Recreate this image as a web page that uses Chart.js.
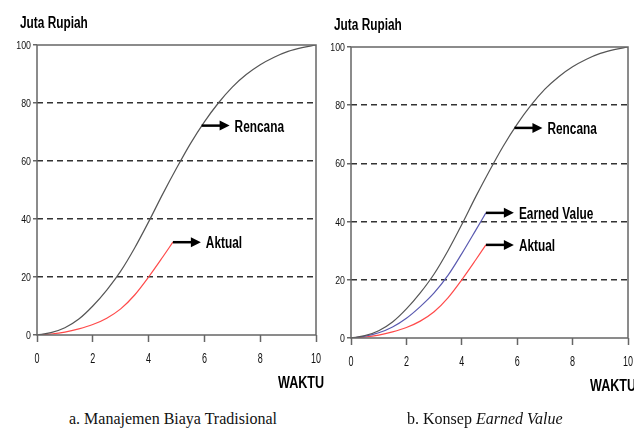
<!DOCTYPE html>
<html>
<head>
<meta charset="utf-8">
<script src="https://cdn.jsdelivr.net/npm/chart.js@4.4.1/dist/chart.umd.min.js"></script>
<style>
  body { margin: 0; background: #fff; width: 634px; height: 431px; overflow: hidden; position: relative; }
  canvas { position: absolute; top: 0; }
  #chartA { left: 0; }
  #chartB { left: 314px; }
  .caption { position: absolute; top: 410px; font-family: "Liberation Serif", "DejaVu Serif", serif; font-size: 16px; line-height: 18px; color: #111; white-space: nowrap; }
  #capA { left: 69px; }
  #capB { left: 407px; }
</style>
</head>
<body>
<canvas id="chartA" width="340" height="395"></canvas>
<canvas id="chartB" width="320" height="395"></canvas>
<div class="caption" id="capA">a. Manajemen Biaya Tradisional</div>
<div class="caption" id="capB">b. Konsep <i>Earned Value</i></div>

<script>
// ---------------- DATA ----------------
const xTicks = [0, 2, 4, 6, 8, 10];
const yTicks = [0, 20, 40, 60, 80, 100];

const rencanaX = [0, 0.5, 1, 1.5, 2, 2.5, 3, 3.5, 4, 4.5, 5, 5.5, 6, 6.5, 7, 7.5, 8, 8.5, 9, 9.5, 10];
const rencanaY = [0, 0.8, 2.5, 5.5, 10, 15.5, 22, 30, 39, 48.5, 57.5, 66, 73.5, 80, 85.5, 89.8, 93.2, 95.8, 97.8, 99.1, 100];

const aktualX = [0, 0.5, 1, 1.5, 2, 2.5, 3, 3.5, 4, 4.5, 4.87];
const aktualY = [0, 0.35, 1.0, 2.1, 3.6, 5.8, 9.0, 13.8, 20, 26.8, 32];

const earnedX = [0, 0.5, 1, 1.5, 2, 2.5, 3, 3.5, 4, 4.5, 4.87];
const earnedY = [0, 0.6, 1.8, 3.8, 6.8, 10.8, 15.5, 21.5, 29, 37, 43];

// label anchor on the Rencana curve (data coords)
const rencanaLabelAt = [5.9, 72.2];

const SANS = '"Liberation Sans", Arial, sans-serif';
const SQUEEZE = 0.74;

function pts(xs, ys) {
  return xs.map((x, i) => ({ x: x, y: ys[i] }));
}

function lineSet(label, xs, ys, color) {
  return {
    label: label,
    data: pts(xs, ys),
    borderColor: color,
    borderWidth: 1.2,
    pointRadius: 0,
    showLine: true,
    fill: false,
    cubicInterpolationMode: "monotone"
  };
}

// squeezed text, like the narrow font of the original
function squeezed(ctx, text, x, y, font, sx, align) {
  ctx.save();
  ctx.font = font;
  ctx.textBaseline = "alphabetic";
  const w = ctx.measureText(text).width * sx;
  let left = x;
  if (align === "right") left = x - w;
  else if (align === "center") left = x - w / 2;
  ctx.translate(left, y);
  ctx.scale(sx, 1);
  ctx.fillText(text, 0, 0);
  ctx.restore();
}

// ---------------- DECORATION PLUGIN ----------------
const decor = {
  id: "decor",
  afterDatasetsDraw(chart) {
    const { ctx, chartArea: a, scales } = chart;
    const labels = chart.options.plugins.decor.labels;

    // frame
    ctx.save();
    ctx.strokeStyle = "#666";
    ctx.lineWidth = 1.5;
    ctx.strokeRect(a.left, a.top, a.right - a.left, a.bottom - a.top);
    ctx.restore();

    ctx.fillStyle = "#111";
    // tick labels, placed by the library scales
    scales.y.ticks.forEach(t => {
      squeezed(ctx, String(t.value), a.left - 6, scales.y.getPixelForValue(t.value) + 4,
        "11px " + SANS, 0.8, "right");
    });
    scales.x.ticks.forEach(t => {
      squeezed(ctx, String(t.value), scales.x.getPixelForValue(t.value), a.bottom + 28,
        "15px " + SANS, 0.6, "center");
    });

    // arrow labels
    labels.forEach(l => {
      const px = scales.x.getPixelForValue(l.at[0]);
      const py = scales.y.getPixelForValue(l.at[1]);
      ctx.save();
      ctx.strokeStyle = "#000";
      ctx.fillStyle = "#000";
      ctx.lineWidth = 2.5;
      ctx.beginPath();
      ctx.moveTo(px, py);
      ctx.lineTo(px + 19, py);
      ctx.stroke();
      ctx.beginPath();
      ctx.moveTo(px + 18, py - 5);
      ctx.lineTo(px + 28, py);
      ctx.lineTo(px + 18, py + 5);
      ctx.closePath();
      ctx.fill();
      ctx.restore();
      ctx.fillStyle = "#000";
      squeezed(ctx, l.text, px + 33, py + 6, "bold 16px " + SANS, SQUEEZE, "left");
    });

    // axis titles
    ctx.fillStyle = "#000";
    squeezed(ctx, "Juta Rupiah", a.left - 17, a.top - 17, "bold 16px " + SANS, SQUEEZE, "left");
    squeezed(ctx, "WAKTU", a.right - 38, a.bottom + 53, "bold 17px " + SANS, SQUEEZE, "left");
  }
};

function makeChart(id, datasets, labels, pad) {
  return new Chart(document.getElementById(id), {
    type: "scatter",
    data: { datasets: datasets },
    options: {
      responsive: false,
      animation: false,
      layout: { padding: pad },
      plugins: {
        legend: { display: false },
        tooltip: { enabled: false },
        decor: { labels: labels }
      },
      scales: {
        x: {
          type: "linear",
          min: 0,
          max: 10,
          afterBuildTicks: s => { s.ticks = xTicks.map(v => ({ value: v })); },
          afterFit: s => { s.height = 25; },
          ticks: { display: false },
          grid: { drawOnChartArea: false, drawTicks: true, tickLength: 7, tickColor: "#666", tickWidth: 1.5 },
          border: { display: false }
        },
        y: {
          min: 0,
          max: 100,
          afterBuildTicks: s => { s.ticks = yTicks.map(v => ({ value: v })); },
          afterFit: s => { s.width = 37; },
          ticks: { display: false },
          grid: {
            color: c => (c.tick && (c.tick.value === 0 || c.tick.value === 100)) ? "rgba(0,0,0,0)" : "#333",
            lineWidth: 1.5,
            drawTicks: true,
            tickLength: 4,
            tickColor: "#666",
            tickWidth: 1.5,
            tickBorderDash: []
          },
          border: { display: false, dash: [6, 4] }
        }
      }
    },
    plugins: [decor]
  });
}

makeChart("chartA",
  [
    lineSet("Rencana", rencanaX, rencanaY, "#555555"),
    lineSet("Aktual", aktualX, aktualY, "#ff4a4a")
  ],
  [
    { text: "Rencana", at: rencanaLabelAt },
    { text: "Aktual", at: [aktualX[aktualX.length - 1], aktualY[aktualY.length - 1]] }
  ],
  { left: 0, right: 24, top: 45, bottom: 35 }
);

makeChart("chartB",
  [
    lineSet("Rencana", rencanaX, rencanaY, "#555555"),
    lineSet("Earned Value", earnedX, earnedY, "#5a5ab0"),
    lineSet("Aktual", aktualX, aktualY, "#ff4a4a")
  ],
  [
    { text: "Rencana", at: rencanaLabelAt },
    { text: "Earned Value", at: [earnedX[earnedX.length - 1], earnedY[earnedY.length - 1]] },
    { text: "Aktual", at: [aktualX[aktualX.length - 1], aktualY[aktualY.length - 1]] }
  ],
  { left: 0, right: 6, top: 47, bottom: 32 }
);
</script>
</body>
</html>
